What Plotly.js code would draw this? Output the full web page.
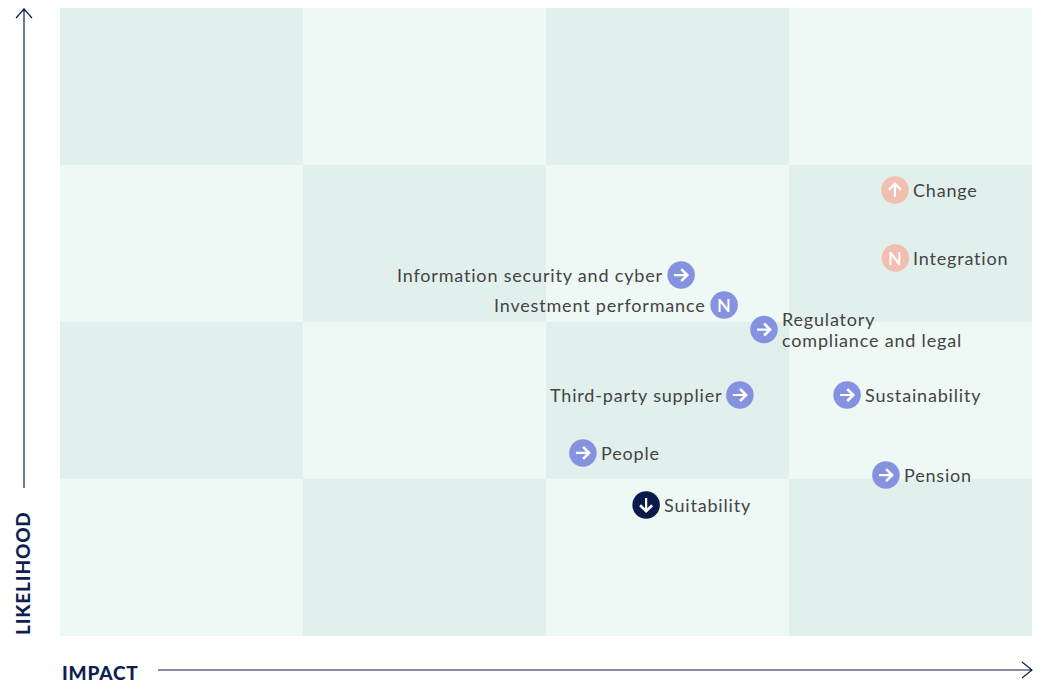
<!DOCTYPE html>
<html><head><meta charset="utf-8">
<script src="https://cdn.plot.ly/plotly-3.0.1.min.js"></script>
<style>html,body{margin:0;padding:0;background:#fff}
.annotation-text{letter-spacing:0.82px}
</style></head><body><div id="chart" style="width:1040px;height:683px"></div>
<script>
const cellCols=[0.5,1.5,2.5,3.5];
const cellRows=[0.5,1.5,2.5,3.5];
const cellShade=[[0,1,0,1],[1,0,1,0],[0,1,0,1],[1,0,1,0]];
const riskNames=["Change","Integration","Information security and cyber","Investment performance","Regulatory<br>compliance and legal","Sustainability","Third-party supplier","People","Pension","Suitability"];
const impact=[3.436,3.438,2.556,2.733,2.897,3.239,2.798,2.152,3.399,2.412];
const likelihood=[2.841,2.408,2.299,2.108,1.952,1.535,1.535,1.166,1.025,0.834];
const trend=["up","new","right","new","right","right","right","right","right","down"];
const markerColors=["#f0bfb0","#f0bfb0","#8492e0","#8492e0","#8492e0","#8492e0","#8492e0","#8492e0","#8492e0","#0a1a4a"];
const labelSide=["right","right","left","left","right","right","left","right","right","right"];
const W=1040,H=683,L=60,R=8,T=8,B=47;
const px=x=>(x-L)/(W-L-R), py=y=>1-(y-T)/(H-T-B);
const navy="#0f1f4f";
const labelAnn=[];
riskNames.forEach((n,i)=>{
  const lines=n.split("<br>");
  lines.forEach((t,k)=>labelAnn.push({x:impact[i],y:likelihood[i],xref:"x",yref:"y",text:t,showarrow:false,
    xanchor:labelSide[i]==="right"?"left":"right",yanchor:"middle",align:"left",
    xshift:labelSide[i]==="right"?17:-17,yshift:lines.length>1?(k===0?10.5:-10.5):0,
    font:{family:"Lato",size:18,color:"#444444",weight:400},borderpad:0}));
});
const vec={right:[8,0,-16,0],up:[0,8,0,16],down:[0,-8,0,-16]};
const glyphAnn=trend.map((t,i)=>t==="new"?
  {x:impact[i],y:likelihood[i],xref:"x",yref:"y",text:"N",showarrow:false,xanchor:"center",yanchor:"middle",
   font:{family:"Lato",size:18,color:"#ffffff",weight:600},borderpad:0}:
  {x:impact[i],y:likelihood[i],xref:"x",yref:"y",text:" ",font:{size:1},showarrow:true,arrowhead:4,arrowsize:1.05,arrowwidth:2.2,arrowcolor:"#ffffff",
   xshift:vec[t][0],yshift:vec[t][1],ax:vec[t][2],ay:vec[t][3],axref:"pixel",ayref:"pixel",standoff:0,startstandoff:0,borderpad:0});
const axisAnn=[
 {x:px(60.5),y:py(672),xref:"paper",yref:"paper",text:"IMPACT",showarrow:false,xanchor:"left",yanchor:"middle",font:{family:"Lato",size:19,color:navy,weight:900},borderpad:0},
 {x:px(22),y:py(636),xref:"paper",yref:"paper",text:"LIKELIHOOD",showarrow:false,textangle:-90,xanchor:"center",yanchor:"bottom",font:{family:"Lato",size:19,color:navy,weight:900},borderpad:0}
];
const lineS={color:navy,width:1.2};
const shapes=[
 {type:"path",xref:"paper",yref:"paper",line:lineS,path:`M${px(24)},${py(488)}L${px(24)},${py(8)}M${px(16)},${py(18)}L${px(24)},${py(9)}L${px(32)},${py(18)}`},
 {type:"path",xref:"paper",yref:"paper",line:lineS,path:`M${px(158)},${py(670)}L${px(1032)},${py(670)}M${px(1022)},${py(662)}L${px(1032)},${py(670)}L${px(1022)},${py(678)}`}
];
const data=[
 {type:"heatmap",x:cellCols,y:cellRows,z:cellShade,zmin:0,zmax:1,showscale:false,hoverinfo:"skip",
  colorscale:[[0,"#eef8f5"],[1,"#e1f0ec"]]},
 {type:"scatter",mode:"markers",x:impact,y:likelihood,cliponaxis:false,
  marker:{size:27.5,color:markerColors,line:{width:0}},hoverinfo:"skip"}
];
const layout={width:W,height:H,margin:{l:L,r:R,t:T,b:B,pad:0},paper_bgcolor:"#fff",plot_bgcolor:"#fff",showlegend:false,
 xaxis:{range:[0,4],visible:false,fixedrange:true},yaxis:{range:[0,4],visible:false,fixedrange:true},
 annotations:labelAnn.concat(glyphAnn,axisAnn),shapes:shapes};
Plotly.newPlot("chart",data,layout,{staticPlot:true,displayModeBar:false});
</script></body></html>
